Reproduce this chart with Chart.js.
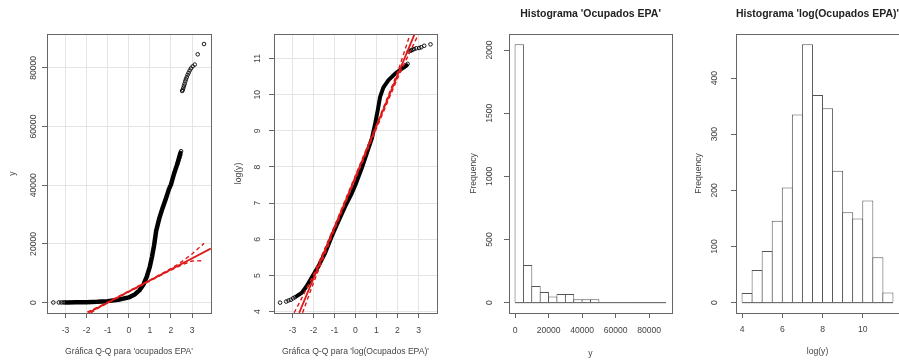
<!DOCTYPE html>
<html>
<head>
<meta charset="utf-8">
<script src="https://cdn.jsdelivr.net/npm/chart.js@4.4.0/dist/chart.umd.min.js"></script>
<style>
  html, body { margin: 0; padding: 0; background: #fff; }
  body { width: 899px; height: 362px; overflow: hidden; position: relative; }
  canvas { position: absolute; top: 0; }
</style>
</head>
<body>
<canvas id="qq1" width="225" height="362" style="left:0px"></canvas>
<canvas id="qq2" width="225" height="362" style="left:225px"></canvas>
<canvas id="h1" width="225" height="362" style="left:450px"></canvas>
<canvas id="h2" width="250" height="362" style="left:675px"></canvas>
<script>
// ---- Q-Q plot of y ----
const qq1BandX = [-2.95, -2.5, -2.0, -1.5, -1.0, -0.5, 0, 0.3, 0.5, 0.7, 0.85, 1.0, 1.1, 1.2, 1.3, 1.45, 1.6, 1.75, 1.9, 2.0, 2.15, 2.3, 2.45];
const qq1BandY = [80, 110, 170, 290, 520, 1000, 1800, 2900, 4200, 6200, 8800, 12300, 15600, 19500, 24500, 28800, 32200, 35200, 38600, 40200, 44000, 47200, 51000];
const qq1PtsX = [-3.58, -3.32, -3.2, -3.1, -3.03, 2.3, 2.35, 2.4, 2.44, 2.48,
                 2.53, 2.56, 2.59, 2.62, 2.65, 2.68, 2.71, 2.75, 2.79, 2.84, 2.89, 2.95, 3.03, 3.13, 3.27, 3.57];
const qq1PtsY = [70, 75, 80, 85, 90, 47300, 48300, 49300, 50300, 51600,
                 72100, 72500, 73200, 73900, 74600, 75400, 76100, 76800, 77600, 78300, 79100, 79800, 80500, 81100, 84600, 88100];
const qq1LineX = [-1.92, 3.89];
const qq1LineY = [-3410, 18400];
const qq1UpX = [-1.97, -1.5, -1.0, 0, 1.0, 2.0, 2.5, 3.0, 3.57];
const qq1UpY = [-3200, -1650, 200, 3950, 7700, 11600, 13900, 16600, 20200];
const qq1LoX = [-1.8, -1.5, -1.0, 0, 1.0, 2.0, 2.5, 3.0, 3.5];
const qq1LoY = [-3500, -2050, -150, 3650, 7400, 11100, 12800, 14200, 14300];
const qq1XTicks = [-3, -2, -1, 0, 1, 2, 3];
const qq1YTicks = [0, 20000, 40000, 60000, 80000];

// ---- Q-Q plot of log(y) ----
const qq2BandX = [-2.8, -2.56, -2.32, -2.05, -1.76, -1.44, -1.13, -0.81, -0.49, -0.17, 0, 0.3, 0.54, 0.78, 0.94, 1.06, 1.17, 1.33, 1.57, 1.89, 2.21, 2.44];
const qq2BandY = [4.43, 4.52, 4.71, 4.98, 5.26, 5.63, 6.08, 6.50, 6.91, 7.28, 7.51, 7.97, 8.38, 8.79, 9.21, 9.57, 9.94, 10.20, 10.40, 10.58, 10.72, 10.81];
const qq2PtsX = [-3.59, -3.3, -3.19, -3.08, -2.97, -2.88, 2.3, 2.4, 2.48,
                 2.53, 2.59, 2.65, 2.71, 2.79, 2.89, 3.03, 3.13, 3.27, 3.57];
const qq2PtsY = [4.25, 4.28, 4.31, 4.33, 4.37, 4.40, 10.76, 10.80, 10.85,
                 11.19, 11.21, 11.22, 11.24, 11.26, 11.28, 11.29, 11.31, 11.35, 11.39];
const qq2LineX = [-2.68, 2.81];
const qq2LineY = [3.97, 11.67];
const qq2UpX = [-2.92, -2.5, -2.0, -1.0, 0, 1.0, 2.0, 2.6];
const qq2UpY = [3.97, 4.44, 5.02, 6.37, 7.77, 9.17, 10.61, 11.67];
const qq2LoX = [-2.52, -2.0, -1.0, 0, 1.0, 2.0, 2.5, 3.0];
const qq2LoY = [3.97, 4.80, 6.27, 7.67, 9.07, 10.45, 11.07, 11.67];
const qq2XTicks = [-3, -2, -1, 0, 1, 2, 3];
const qq2YTicks = [4, 5, 6, 7, 8, 9, 10, 11];

// ---- histogram of y ----
const hist1Breaks = [0, 5000, 10000, 15000, 20000, 25000, 30000, 35000, 40000, 45000, 50000,
                     55000, 60000, 65000, 70000, 75000, 80000, 85000, 90000];
const hist1Counts = [2045, 298, 132, 85, 48, 69, 69, 27, 27, 27, 0, 0, 0, 0, 6, 6, 3, 1];
const hist1XTicks = [0, 20000, 40000, 60000, 80000];
const hist1YTicks = [0, 500, 1000, 1500, 2000];

// ---- histogram of log(y) ----
const hist2Breaks = [4, 4.5, 5, 5.5, 6, 6.5, 7, 7.5, 8, 8.5, 9, 9.5, 10, 10.5, 11, 11.5];
const hist2Counts = [17, 58, 92, 146, 205, 335, 460, 370, 346, 235, 161, 150, 182, 81, 18];
const hist2XTicks = [4, 6, 8, 10];
const hist2YTicks = [0, 100, 200, 300, 400];

const FONT = "'Liberation Sans', Arial, sans-serif";
const TEXT = '#444';
const FRAME = '#666';
const GRID = '#e4e4e4';
const RED = '#e01818';

function pts(xs, ys) {
    return xs.map((x, i) => ({ x: x, y: ys[i] }));
}

const framePlugin = {
    id: 'frame',
    afterDraw(chart) {
        const { ctx, chartArea: a } = chart;
        ctx.save();
        ctx.strokeStyle = FRAME;
        ctx.lineWidth = 1;
        ctx.strokeRect(Math.round(a.left) + 0.5, Math.round(a.top) + 0.5,
            Math.round(a.right - a.left), Math.round(a.bottom - a.top));
        ctx.restore();
    }
};

// R-like axes: fixed sizes so the plot box lands where the original has it
function xAxis(o) {
    return {
        type: 'linear', min: o.min, max: o.max, offset: false,
        afterBuildTicks: s => { s.ticks = o.ticks.map(v => ({ value: v })); },
        afterFit: s => { s.height = o.height; },
        border: { display: false },
        grid: { display: true, drawOnChartArea: o.grid, color: GRID, tickColor: FRAME, tickLength: 5, offset: false },
        ticks: { color: TEXT, font: { family: FONT, size: 8.6 }, padding: o.tickPad, maxRotation: 0, autoSkip: false,
                 callback: v => String(v) },
        title: { display: true, text: o.title, color: TEXT, font: { family: FONT, size: 8.6 },
                 padding: { top: 0, bottom: o.titlePad } }
    };
}

function yAxis(o) {
    return {
        type: 'linear', min: o.min, max: o.max,
        afterBuildTicks: s => { s.ticks = o.ticks.map(v => ({ value: v })); },
        afterFit: s => { s.width = o.width; },
        border: { display: false },
        grid: { display: true, drawOnChartArea: o.grid, color: GRID, tickColor: FRAME, tickLength: 5 },
        ticks: { color: TEXT, font: { family: FONT, size: 8.6 }, padding: o.tickPad, minRotation: 90, maxRotation: 90,
                 crossAlign: 'center', autoSkip: false, callback: v => String(v) },
        title: { display: true, text: o.title, color: TEXT, font: { family: FONT, size: 8.6 },
                 padding: { top: o.titlePad, bottom: 0 } }
    };
}

function qqChart(id, d) {
    return new Chart(document.getElementById(id), {
        type: 'scatter',
        data: {
            datasets: [
                { type: 'line', data: pts(d.lineX, d.lineY), borderColor: RED, borderWidth: 1.8, pointRadius: 0, fill: false, order: 0, clip: 0 },
                { type: 'line', data: pts(d.upX, d.upY), borderColor: RED, borderWidth: 1.4, borderDash: [4, 3], pointRadius: 0, fill: false, order: 0, clip: 0 },
                { type: 'line', data: pts(d.loX, d.loY), borderColor: RED, borderWidth: 1.4, borderDash: [4, 3], pointRadius: 0, fill: false, order: 0, clip: 0 },
                { type: 'line', data: pts(d.bandX, d.bandY), borderColor: '#000', borderWidth: d.band, pointRadius: 0, fill: false,
                  borderCapStyle: 'round', borderJoinStyle: 'round', order: 1 },
                { data: pts(d.ptX, d.ptY), pointStyle: 'circle', pointRadius: 1.8, borderWidth: 0.9,
                  borderColor: '#000', backgroundColor: 'rgba(0,0,0,0)', order: 1 }
            ]
        },
        options: {
            responsive: false, animation: false, events: [],
            layout: { padding: { left: 0, top: 34, right: d.padRight, bottom: 0 } },
            plugins: { legend: { display: false }, tooltip: { enabled: false } },
            scales: { x: xAxis(d.x), y: yAxis(d.y) }
        },
        plugins: [framePlugin]
    });
}

// bars are widened by one pixel so neighbouring edges fall on the same column
function histChart(id, d) {
    const n = d.counts.length;
    const bars = d.counts.map((c, i) => ({ x: (d.breaks[i] + d.breaks[i + 1]) / 2, y: c }));
    return new Chart(document.getElementById(id), {
        type: 'bar',
        data: {
            datasets: [
                { type: 'bar', data: bars, backgroundColor: '#fff', borderColor: '#555', borderSkipped: false,
                  borderWidth: { top: 1, left: 1, bottom: 0, right: 1 },
                  inflateAmount: 0, barPercentage: d.barPct, categoryPercentage: 1, order: 1 },
                { type: 'line', data: [{ x: d.breaks[0], y: 0 }, { x: d.breaks[n], y: 0 }],
                  borderColor: '#555', borderWidth: 1, pointRadius: 0, fill: false, order: 0 }
            ]
        },
        options: {
            responsive: false, animation: false, events: [],
            layout: { padding: { left: 0, top: 0, right: d.padRight, bottom: 0 } },
            plugins: {
                legend: { display: false }, tooltip: { enabled: false },
                title: { display: true, text: d.title, fullSize: false, color: '#222',
                         font: { family: FONT, size: 10.5, weight: 'bold' }, padding: { top: 7.7, bottom: 13.7 } }
            },
            scales: { x: xAxis(d.x), y: yAxis(d.y) }
        },
        plugins: [framePlugin]
    });
}

qqChart('qq1', {
    bandX: qq1BandX, bandY: qq1BandY, ptX: qq1PtsX, ptY: qq1PtsY,
    lineX: qq1LineX, lineY: qq1LineY, upX: qq1UpX, upY: qq1UpY, loX: qq1LoX, loY: qq1LoY,
    padRight: 14, band: 4.5,
    x: { min: -3.88, max: 3.9, ticks: qq1XTicks, height: 49, grid: true, tickPad: 7.5, titlePad: 5.1,
         title: "Gráfica Q-Q para 'ocupados EPA'" },
    y: { min: -3520, max: 91520, ticks: qq1YTicks, width: 47, grid: true, tickPad: -3.5, titlePad: 7.1, title: 'y' }
});

qqChart('qq2', {
    bandX: qq2BandX, bandY: qq2BandY, ptX: qq2PtsX, ptY: qq2PtsY,
    lineX: qq2LineX, lineY: qq2LineY, upX: qq2UpX, upY: qq2UpY, loX: qq2LoX, loY: qq2LoY,
    padRight: 13, band: 4,
    x: { min: -3.88, max: 3.88, ticks: qq2XTicks, height: 49, grid: true, tickPad: 7.5, titlePad: 5.1,
         title: "Gráfica Q-Q para 'log(Ocupados EPA)'" },
    y: { min: 3.964, max: 11.676, ticks: qq2YTicks, width: 49, grid: true, tickPad: 6.2, titlePad: 8.1, title: 'log(y)' }
});

histChart('h1', {
    breaks: hist1Breaks, counts: hist1Counts, title: "Histograma 'Ocupados EPA'", padRight: 3, barPct: 1.119,
    x: { min: -3600, max: 93600, ticks: hist1XTicks, height: 49, grid: false, tickPad: 7.5, titlePad: 3.5, title: 'y' },
    y: { min: -81.8, max: 2126.8, ticks: hist1YTicks, width: 59, grid: false, tickPad: 4.8, titlePad: 18.8, title: 'Frequency' }
});

histChart('h2', {
    breaks: hist2Breaks, counts: hist2Counts, title: "Histograma 'log(Ocupados EPA)'", padRight: 26, barPct: 1.099,
    x: { min: 3.7, max: 11.8, ticks: hist2XTicks, height: 49, grid: false, tickPad: 6.8, titlePad: 5.1, title: 'log(y)' },
    y: { min: -18.4, max: 478.4, ticks: hist2YTicks, width: 61, grid: false, tickPad: 9.3, titlePad: 18.8, title: 'Frequency' }
});
</script>
</body>
</html>
